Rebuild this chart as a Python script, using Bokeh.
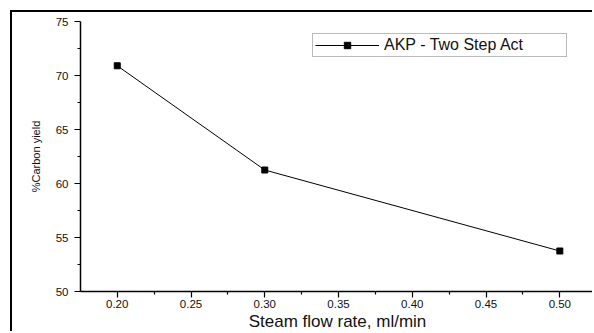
from bokeh.plotting import figure
from bokeh.models import Legend, LegendItem, Range1d, FixedTicker
from bokeh.embed import file_html
from bokeh.resources import INLINE

steam_flow = [0.20, 0.30, 0.50]
carbon_yield = [70.9, 61.25, 53.75]
series_name = "AKP - Two Step Act"
x_major = [0.20, 0.25, 0.30, 0.35, 0.40, 0.45, 0.50]
x_minor = [0.175, 0.225, 0.275, 0.325, 0.375, 0.425, 0.475, 0.525]
y_major = [50, 55, 60, 65, 70, 75]
y_minor = [52.5, 57.5, 62.5, 67.5, 72.5]

FONT = "Liberation Sans"

p = figure(width=582, height=321, output_backend="svg", toolbar_location=None,
           x_range=Range1d(0.1751, 0.5235), y_range=Range1d(50, 75),
           min_border_left=68, min_border_right=0, min_border_top=9, min_border_bottom=41)
p.styles = {"border-left": "2px solid #000", "border-top": "2px solid #000",
            "margin-left": "10px", "margin-top": "10px"}
p.outline_line_color = None
p.xgrid.visible = False
p.ygrid.visible = False
p.background_fill_color = "white"
p.border_fill_color = "white"

ln = p.line(steam_flow, carbon_yield, line_color="black", line_width=1)
sc = p.scatter(steam_flow, carbon_yield, marker="square", size=6,
               fill_color="black", line_color="black")

for ax in (p.xaxis[0], p.yaxis[0]):
    ax.axis_line_width = 1.5
    ax.axis_line_color = "black"
    ax.major_tick_line_width = 1.2
    ax.minor_tick_line_width = 1.2
    ax.major_tick_in = 0
    ax.major_tick_out = 6
    ax.minor_tick_in = 0
    ax.minor_tick_out = 3
    ax.major_label_text_font = FONT
    ax.major_label_text_font_size = "11.5px"
    ax.major_label_text_color = "#111"
    ax.axis_label_text_font = FONT
    ax.axis_label_text_font_style = "normal"
    ax.axis_label_text_color = "#111"

p.xaxis[0].ticker = FixedTicker(ticks=x_major, minor_ticks=x_minor)
p.yaxis[0].ticker = FixedTicker(ticks=y_major, minor_ticks=y_minor)
p.xaxis[0].major_label_overrides = {v: f"{v:.2f}" for v in x_major}
p.xaxis[0].major_label_standoff = 2
p.yaxis[0].major_label_standoff = 6
p.xaxis[0].axis_label = "Steam flow rate, ml/min"
p.xaxis[0].axis_label_text_font_size = "17px"
p.xaxis[0].axis_label_standoff = 1
p.yaxis[0].axis_label = "%Carbon yield"
p.yaxis[0].axis_label_text_font_size = "11px"
p.yaxis[0].axis_label_standoff = 11

legend = Legend(items=[LegendItem(label=series_name, renderers=[ln, sc])],
                location=(232, 234), orientation="vertical")
legend.border_line_color = "#777"
legend.border_line_width = 1.5
legend.padding = 2
legend.margin = 0
legend.glyph_width = 64
legend.glyph_height = 16
legend.label_standoff = 5
legend.label_width = 180
legend.label_text_font = FONT
legend.label_text_font_size = "16px"
legend.label_text_color = "#111"
legend.background_fill_alpha = 1
p.add_layout(legend, "center")

open("out.html", "w").write(file_html(p, INLINE))
